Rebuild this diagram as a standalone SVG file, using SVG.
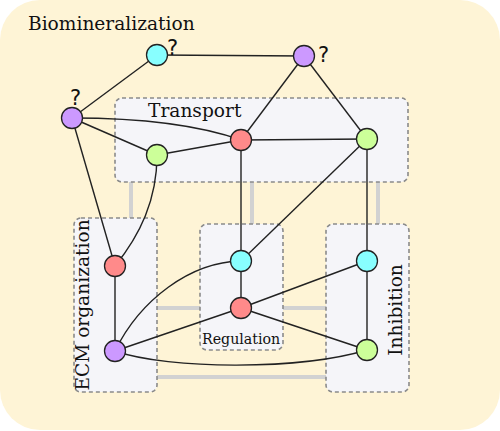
<svg xmlns="http://www.w3.org/2000/svg" width="500" height="431" viewBox="0 0 500 431">
<style>
.bg{fill:#fef4d6;}
.box{fill:#f5f5f9;stroke:#8a8a8a;stroke-width:1.6;stroke-dasharray:4,3;}
.link{stroke:#d2d2d2;stroke-width:4;fill:none;}
.edge{stroke:#222;stroke-width:1.4;fill:none;}
.node{stroke:#222;stroke-width:1.3;}
.cy{fill:#88ffff;} .pu{fill:#cc99ff;} .rd{fill:#ff8a8a;} .gr{fill:#ccff99;}
.lbl{font-family:"DejaVu Serif","Liberation Serif",serif;font-size:18.6px;fill:#111;}
.q{font-family:"DejaVu Sans","Liberation Sans",sans-serif;font-size:21px;fill:#111;}
</style>
<rect class="bg" x="0" y="0" width="500" height="430" rx="40" ry="40"/>
<text class="lbl" x="28" y="30">Biomineralization</text>
<g id="module-links">
<line class="link" x1="131" y1="182" x2="131" y2="218"/>
<line class="link" x1="252" y1="182" x2="252" y2="224"/>
<line class="link" x1="378" y1="182" x2="378" y2="224"/>
<line class="link" x1="157" y1="308" x2="200" y2="308"/>
<line class="link" x1="283" y1="308" x2="326" y2="308"/>
<line class="link" x1="157" y1="377" x2="326" y2="377"/>
</g>
<g id="transport">
<rect class="box" x="115" y="98" width="293" height="84" rx="7"/>
<text class="lbl" x="148" y="117">Transport</text>
</g>
<g id="ecm">
<rect class="box" x="74" y="218" width="83" height="174" rx="7"/>
<text class="lbl" text-anchor="middle" transform="translate(89,305) rotate(-90)">ECM organization</text>
</g>
<g id="regulation">
<rect class="box" x="200" y="224" width="83" height="126" rx="7"/>
<text class="lbl" style="font-size:14.2px" x="202" y="344">Regulation</text>
</g>
<g id="inhibition">
<rect class="box" x="326" y="224" width="83" height="168" rx="7"/>
<text class="lbl" text-anchor="middle" transform="translate(402,310) rotate(-90)">Inhibition</text>
</g>
<g id="connectors">
<line class="edge" x1="157" y1="55" x2="304" y2="56"/>
<line class="edge" x1="157" y1="55" x2="72" y2="118"/>
<line class="edge" x1="304" y1="56" x2="241" y2="140"/>
<line class="edge" x1="304" y1="56" x2="367" y2="139"/>
<path class="edge" d="M72,118 C120,118 190,122 241,140"/>
<line class="edge" x1="72" y1="118" x2="157" y2="155"/>
<line class="edge" x1="72" y1="118" x2="115" y2="266"/>
<line class="edge" x1="157" y1="155" x2="241" y2="140"/>
<path class="edge" d="M157,155 C157,200 140,235 115,266"/>
<line class="edge" x1="241" y1="140" x2="367" y2="139"/>
<line class="edge" x1="241" y1="140" x2="241" y2="261"/>
<line class="edge" x1="367" y1="139" x2="241" y2="261"/>
<line class="edge" x1="367" y1="139" x2="367" y2="261"/>
<line class="edge" x1="115" y1="266" x2="115" y2="351"/>
<path class="edge" d="M115,351 C140,300 190,262 241,261"/>
<line class="edge" x1="115" y1="351" x2="241" y2="308"/>
<path class="edge" d="M115,351 C170,370 300,370 367,350"/>
<line class="edge" x1="241" y1="261" x2="241" y2="308"/>
<line class="edge" x1="241" y1="308" x2="367" y2="261"/>
<line class="edge" x1="241" y1="308" x2="367" y2="350"/>
<line class="edge" x1="367" y1="261" x2="367" y2="350"/>
</g>
<g id="n-top-cyan"><circle class="node cy" cx="157" cy="55" r="10.5"/><text class="q" x="167" y="55">?</text></g>
<g id="n-top-purple"><circle class="node pu" cx="304" cy="56" r="10.5"/><text class="q" x="318" y="62">?</text></g>
<g id="n-left-purple"><circle class="node pu" cx="72" cy="118" r="10.5"/><text class="q" x="70" y="105">?</text></g>
<g id="n-tr-green"><circle class="node gr" cx="157" cy="155" r="10.5"/></g>
<g id="n-tr-red"><circle class="node rd" cx="241" cy="140" r="10.5"/></g>
<g id="n-tr-green2"><circle class="node gr" cx="367" cy="139" r="10.5"/></g>
<g id="n-ecm-red"><circle class="node rd" cx="115" cy="266" r="10.5"/></g>
<g id="n-ecm-purple"><circle class="node pu" cx="115" cy="351" r="10.5"/></g>
<g id="n-reg-cyan"><circle class="node cy" cx="241" cy="261" r="10.5"/></g>
<g id="n-reg-red"><circle class="node rd" cx="241" cy="308" r="10.5"/></g>
<g id="n-inh-cyan"><circle class="node cy" cx="367" cy="261" r="10.5"/></g>
<g id="n-inh-green"><circle class="node gr" cx="367" cy="350" r="10.5"/></g>
</svg>
